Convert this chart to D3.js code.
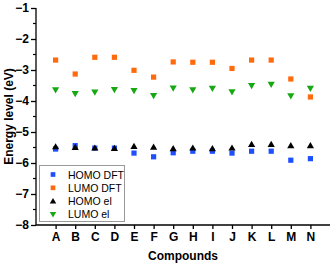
<!DOCTYPE html>
<html><head><meta charset="utf-8">
<script src="https://cdn.jsdelivr.net/npm/d3@7"></script>
<style>body{margin:0;background:#fff}svg{display:block}</style>
</head><body>
<script>
const categories = ["A","B","C","D","E","F","G","H","I","J","K","L","M","N"];
const homoDFT = [-5.55,-5.44,-5.52,-5.52,-5.68,-5.80,-5.67,-5.62,-5.62,-5.68,-5.62,-5.62,-5.91,-5.86];
const lumoDFT = [-2.68,-3.13,-2.59,-2.59,-3.01,-3.23,-2.74,-2.75,-2.75,-2.95,-2.68,-2.68,-3.29,-3.87];
const homoEl  = [-5.47,-5.49,-5.51,-5.52,-5.46,-5.48,-5.53,-5.51,-5.53,-5.51,-5.39,-5.39,-5.43,-5.43];
const lumoEl  = [-3.65,-3.77,-3.72,-3.64,-3.67,-3.83,-3.59,-3.65,-3.60,-3.71,-3.51,-3.47,-3.84,-3.60];
const yTicks = [-1,-2,-3,-4,-5,-6,-7,-8];
const seriesNames = ["HOMO DFT","LUMO DFT","HOMO el","LUMO el"];

const W=332,H=266;
const svg=d3.select("body").append("svg").attr("width",W).attr("height",H);
const x=d3.scalePoint().domain(categories).range([36,330]).padding(1);
const y=d3.scaleLinear().domain([-8,-1]).range([225,8]);
const font="Liberation Sans, Arial, sans-serif";

const series=[
 {name:seriesNames[0],data:homoDFT,color:"#1d4fff",shape:"sq"},
 {name:seriesNames[1],data:lumoDFT,color:"#ff6a0d",shape:"sq"},
 {name:seriesNames[2],data:homoEl,color:"#000000",shape:"up"},
 {name:seriesNames[3],data:lumoEl,color:"#17a814",shape:"down"}
];
function shapePath(s){
  if(s==="sq") return "M-2.6,-2.6h5.2v5.2h-5.2z";
  if(s==="up") return "M0,-3.4L3.6,2.8L-3.6,2.8z";
  return "M0,3.4L3.6,-2.8L-3.6,-2.8z";
}

// axes
const yAxis=d3.axisLeft(y).tickValues(yTicks).tickSize(5).tickPadding(2).tickFormat(d3.format("d"));
const ya=svg.append("g").attr("transform","translate(36,0)").call(yAxis);
ya.select(".domain").attr("stroke-width",1.3).attr("d","M0,"+y(-1)+"V"+y(-8));
ya.selectAll("text").attr("font-family",font).attr("font-size",12).attr("font-weight","bold").attr("fill","#000");
ya.selectAll(".tick line").attr("stroke-width",1.3);
const minor=d3.range(-7.5,-1,1);
svg.append("g").selectAll("line").data(minor).join("line")
 .attr("x1",33).attr("x2",36).attr("y1",d=>y(d)).attr("y2",d=>y(d)).attr("stroke","#000").attr("stroke-width",1.2);

const xAxis=d3.axisBottom(x).tickSize(4).tickPadding(3);
const xa=svg.append("g").attr("transform","translate(0,"+y(-8)+")").call(xAxis);
xa.select(".domain").attr("stroke-width",1.3).attr("d","M36,0H330");
xa.selectAll("text").attr("font-family",font).attr("font-size",12).attr("font-weight","bold").attr("fill","#000");
xa.selectAll(".tick line").attr("stroke-width",1.3);

svg.append("text").attr("x",183).attr("y",260).attr("text-anchor","middle")
 .attr("font-family",font).attr("font-size",12).attr("font-weight","bold").text("Compounds");
svg.append("text").attr("transform","translate(13,"+((y(-1)+y(-8))/2)+") rotate(-90)").attr("text-anchor","middle")
 .attr("font-family",font).attr("font-size",12).attr("font-weight","bold").text("Energy level (eV)");

// points
series.forEach(s=>{
  svg.append("g").selectAll("path").data(s.data).join("path")
   .attr("transform",(d,i)=>"translate("+x(categories[i])+","+y(d)+")")
   .attr("d",shapePath(s.shape)).attr("fill",s.color);
});

// legend
const lg=svg.append("g");
lg.append("rect").attr("x",39.5).attr("y",165.5).attr("width",85).attr("height",56)
 .attr("fill","#fff").attr("stroke","#999").attr("stroke-width",1);
series.forEach((s,i)=>{
  const cy=174.5+i*13.3;
  lg.append("path").attr("transform","translate(53,"+cy+") scale(0.9)").attr("d",shapePath(s.shape)).attr("fill",s.color);
  lg.append("text").attr("x",68).attr("y",cy+4).attr("font-family",font).attr("font-size",10.5).attr("fill","#000").text(s.name);
});
</script>
</body></html>
